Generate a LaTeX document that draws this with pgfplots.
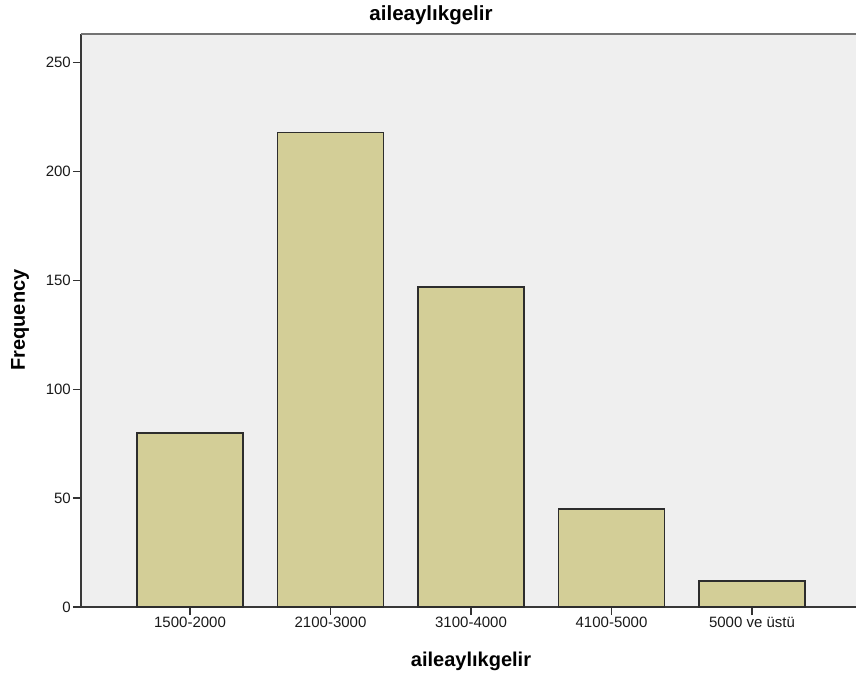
\documentclass[border=0pt]{standalone}
\usepackage{fontspec}
\setmainfont{Liberation Sans}
\usepackage{pgfplots}
\pgfplotsset{compat=1.18}
\definecolor{bgc}{RGB}{239,239,239}
\definecolor{barc}{RGB}{211,206,151}
\definecolor{edgec}{RGB}{45,45,45}
\begin{document}
\begin{tikzpicture}[x=1pt,y=1pt]
\path[use as bounding box] (-81,-68) rectangle (775,607);
\begin{axis}[
  at={(0,0)}, anchor=south west,
  scale only axis, width=790pt, height=573pt,
  xmin=-0.776, xmax=4.847,
  ymin=0, ymax=263.2,
  axis background/.style={fill=bgc},
  axis x line*=bottom, axis y line*=left,
  axis line style={draw=black!78, line width=1.5pt},
  ytick={0,50,100,150,200,250},
  xtick={0,1,2,3,4},
  xticklabels={1500-2000,2100-3000,3100-4000,4100-5000,5000 ve üstü},
  tick align=outside, tick pos=left,
  major tick length=8pt,
  tick style={black!80, line width=1.3pt},
  /pgf/number format/assume math mode=true,
  ticklabel style={font=\fontsize{15}{16}\selectfont, text=black!90, inner sep=2pt},
  yticklabel style={xshift=0pt},
  xticklabel style={yshift=0pt},
  clip=false,
]
\addplot[ybar, bar width=0.754, fill=barc, draw=edgec, line width=1.4pt]
  coordinates {(0,80) (1,218) (2,147) (3,45) (4,12)};
\draw[black!55, line width=1.8pt] (rel axis cs:0,1) -- (rel axis cs:1,1);
\end{axis}
\node[font=\bfseries\fontsize{20.5}{22}\selectfont] at (350,592) {aileaylıkgelir};
\node[font=\bfseries\fontsize{20}{22}\selectfont] at (390,-54) {aileaylıkgelir};
\node[font=\bfseries\fontsize{20}{22}\selectfont, rotate=90] at (-61,287) {Frequency};
\end{tikzpicture}
\end{document}
